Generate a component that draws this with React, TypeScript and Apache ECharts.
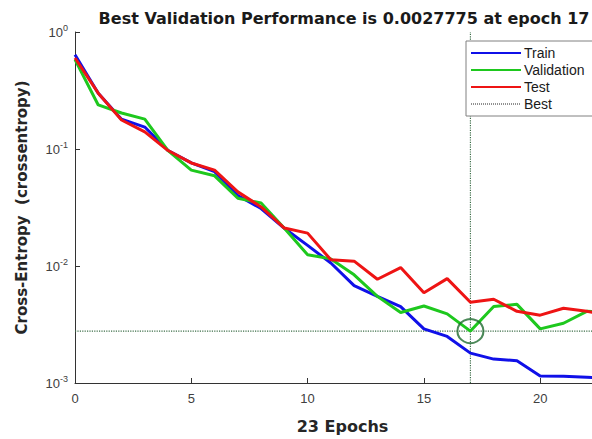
import React, { useEffect, useRef } from "react";
import * as echarts from "echarts";

const epochs = [0, 1, 2, 3, 4, 5, 6, 7, 8, 9, 10, 11, 12, 13, 14, 15, 16, 17, 18, 19, 20, 21, 22, 23];
const trainPerf = [0.64, 0.30, 0.18, 0.154, 0.097, 0.076, 0.064, 0.040, 0.031, 0.021, 0.015, 0.0106, 0.0068, 0.0055, 0.0045, 0.0029, 0.0025, 0.0018, 0.0016, 0.00155, 0.00115, 0.00114, 0.00112, 0.0011];
const validationPerf = [0.58, 0.238, 0.203, 0.18, 0.097, 0.066, 0.059, 0.038, 0.0345, 0.021, 0.0125, 0.0115, 0.0084, 0.0055, 0.0040, 0.00455, 0.0039, 0.0027775, 0.0045, 0.0047, 0.0029, 0.00324, 0.0041, 0.0040];
const testPerf = [0.60, 0.30, 0.177, 0.14, 0.097, 0.076, 0.066, 0.043, 0.032, 0.0211, 0.0191, 0.0113, 0.0110, 0.0077, 0.0097, 0.0059, 0.0078, 0.0049, 0.0052, 0.0041, 0.0038, 0.00435, 0.0041, 0.0038];
const bestEpoch = 17;
const bestPerf = 0.0027775;
const xRange = [0, 23];
const yRange = [0.001, 1];
const legendNames = ["Train", "Validation", "Test", "Best"];
const titleText = "Best Validation Performance is 0.0027775 at epoch 17";
const xAxisTitle = "23 Epochs";
const yAxisTitle = "Cross-Entropy  (crossentropy)";

const FONT = "'Liberation Sans', Arial, Helvetica, sans-serif";
const WIDE = "'DejaVu Sans', 'Liberation Sans', Arial, sans-serif";

export default function App() {
  const ref = useRef<HTMLDivElement>(null);
  useEffect(() => {
    if (!ref.current) return;
    const chart = echarts.init(ref.current, undefined, { renderer: "svg" });
    const pair = (vals: number[]) => epochs.map((e, i) => [e, vals[i]]);
    const bestColor = "#3c6e48";
    chart.setOption({
      animation: false,
      backgroundColor: "#ffffff",
      textStyle: { fontFamily: FONT },
      title: {
        text: titleText,
        left: 339,
        textAlign: "center",
        top: 5,
        textStyle: { fontFamily: WIDE, fontSize: 16, fontWeight: "bold", color: "#1a1a1a" },
      },
      legend: {
        orient: "vertical",
        left: 466,
        top: 41,
        itemWidth: 50,
        itemHeight: 14,
        itemGap: 3,
        padding: [5, 60, 5, 4],
        backgroundColor: "#ffffff",
        borderColor: "#808080",
        borderWidth: 1,
        borderRadius: 0,
        itemStyle: { opacity: 0 },
        textStyle: { fontFamily: FONT, fontSize: 14, color: "#1a1a1a", padding: [0, 0, 0, -2] },
        data: [
          { name: legendNames[0] },
          { name: legendNames[1] },
          { name: legendNames[2] },
          { name: legendNames[3], lineStyle: { color: "#222222", type: "dotted", width: 1 } },
        ],
      },
      grid: { left: 75, top: 32, right: 10, bottom: 56 },
      xAxis: {
        type: "value",
        min: xRange[0],
        max: xRange[1],
        interval: 5,
        name: xAxisTitle,
        nameLocation: "middle",
        nameGap: 35,
        nameTextStyle: { fontFamily: WIDE, fontSize: 16, fontWeight: "bold", color: "#262626" },
        axisLine: { lineStyle: { color: "#333333", width: 1 } },
        axisTick: { inside: true, length: 5, lineStyle: { color: "#333333" } },
        axisLabel: { fontFamily: FONT, fontSize: 13, color: "#404040", margin: 9, showMaxLabel: false },
        splitLine: { show: false },
      },
      yAxis: {
        type: "log",
        logBase: 10,
        min: yRange[0],
        max: yRange[1],
        name: yAxisTitle,
        nameLocation: "middle",
        nameGap: 46,
        nameTextStyle: { fontFamily: WIDE, fontSize: 15, fontWeight: "bold", color: "#262626" },
        axisLine: { show: true, lineStyle: { color: "#333333", width: 1 } },
        axisTick: { inside: true, length: 5, lineStyle: { color: "#333333" } },
        axisLabel: {
          margin: 7,
          formatter: (v: number) => `{b|10}{s|${Math.round(Math.log10(v))}}`,
          rich: {
            b: { fontFamily: FONT, fontSize: 13, color: "#404040", lineHeight: 18 },
            s: { fontFamily: FONT, fontSize: 9, color: "#404040", lineHeight: 18, verticalAlign: "top" },
          },
        },
        splitLine: { show: false },
      },
      series: [
        {
          name: "Best",
          type: "line",
          data: [[xRange[0], bestPerf], [xRange[1], bestPerf]],
          symbol: "none",
          lineStyle: { color: bestColor, type: "dotted", width: 1.2 },
          itemStyle: { color: bestColor },
          z: 1,
        },
        {
          name: "Best",
          type: "line",
          data: [[bestEpoch, yRange[0]], [bestEpoch, yRange[1]]],
          symbol: "none",
          lineStyle: { color: bestColor, type: "dotted", width: 1.2 },
          itemStyle: { color: bestColor },
          z: 1,
        },
        {
          name: "Train",
          type: "line",
          data: pair(trainPerf),
          symbol: "none",
          lineStyle: { color: "#1010e8", width: 3 },
          itemStyle: { color: "#1010e8" },
        },
        {
          name: "Validation",
          type: "line",
          data: pair(validationPerf),
          symbol: "none",
          lineStyle: { color: "#1ec81e", width: 3 },
          itemStyle: { color: "#1ec81e" },
        },
        {
          name: "Test",
          type: "line",
          data: pair(testPerf),
          symbol: "none",
          lineStyle: { color: "#ee1414", width: 3 },
          itemStyle: { color: "#ee1414" },
        },
        {
          name: "bestMarker",
          type: "scatter",
          data: [[bestEpoch, bestPerf]],
          symbol: "circle",
          symbolSize: [26, 24],
          itemStyle: { color: "rgba(0,0,0,0)", borderColor: "#1f6b2f", borderWidth: 2 },
          z: 5,
        },
      ],
    });
    return () => chart.dispose();
  }, []);
  return (
    <div
      style={{ position: "fixed", left: 0, top: 0, width: 592, height: 439, overflow: "hidden", background: "#fff" }}
    >
      <div ref={ref} style={{ width: 620, height: 439 }} />
    </div>
  );
}
